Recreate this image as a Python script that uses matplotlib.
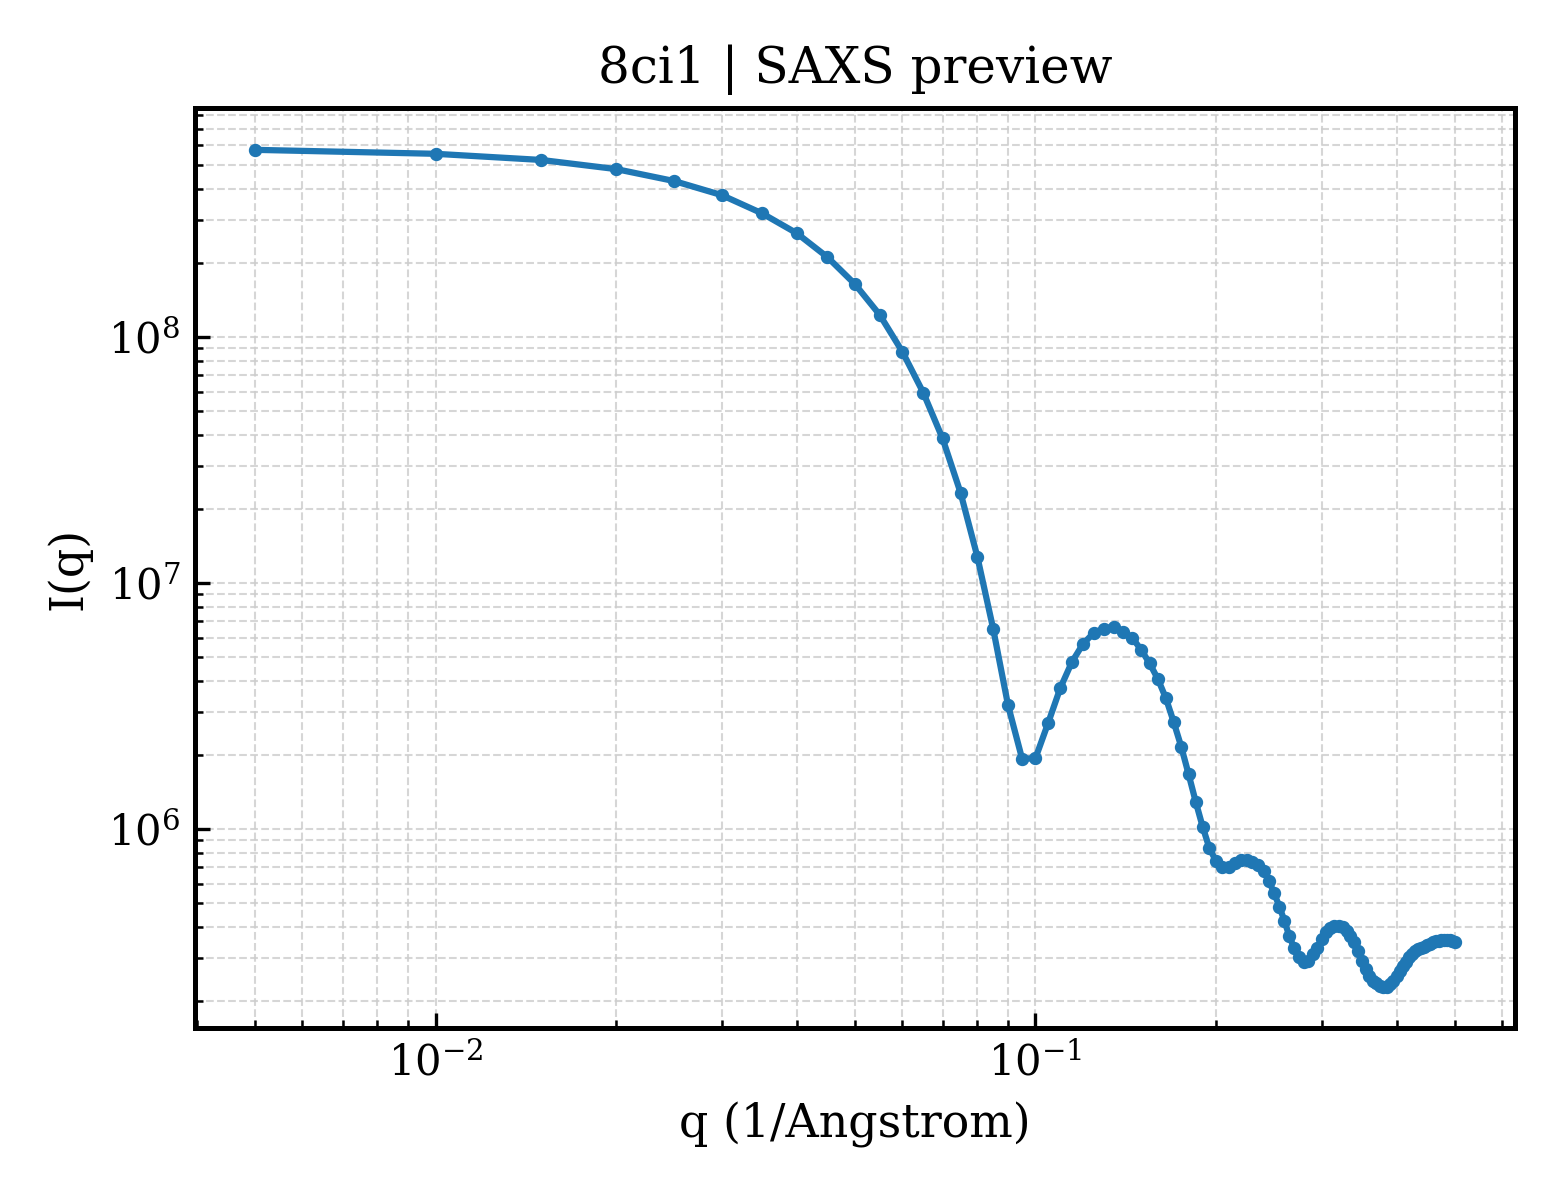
import matplotlib
matplotlib.use("Agg")
import matplotlib.pyplot as plt

plt.rcParams['font.family'] = ['DejaVu Serif']

q = [0.005, 0.010, 0.015, 0.020, 0.025, 0.030, 0.035, 0.040, 0.045, 0.050,
     0.055, 0.060, 0.065, 0.070, 0.075, 0.080, 0.085, 0.090, 0.095, 0.100,
     0.105, 0.110, 0.115, 0.120, 0.125, 0.130, 0.135, 0.140, 0.145, 0.150,
     0.155, 0.160, 0.165, 0.170, 0.175, 0.180, 0.185, 0.190, 0.195, 0.200,
     0.205, 0.210, 0.215, 0.220, 0.225, 0.230, 0.235, 0.240, 0.245, 0.250,
     0.255, 0.260, 0.265, 0.270, 0.275, 0.280, 0.285, 0.290, 0.295, 0.300,
     0.305, 0.310, 0.315, 0.320, 0.325, 0.330, 0.335, 0.340, 0.345, 0.350,
     0.355, 0.360, 0.365, 0.370, 0.375, 0.380, 0.385, 0.390, 0.395, 0.400,
     0.405, 0.410, 0.415, 0.420, 0.425, 0.430, 0.435, 0.440, 0.445, 0.450,
     0.455, 0.460, 0.465, 0.470, 0.475, 0.480, 0.485, 0.490, 0.495, 0.500]

intensity = [5.76e8, 5.55e8, 5.24e8, 4.81e8, 4.30e8, 3.77e8, 3.18e8, 2.64e8, 2.11e8, 1.64e8,
             1.23e8, 8.71e7, 5.94e7, 3.87e7, 2.33e7, 1.28e7, 6.53e6, 3.19e6, 1.93e6, 1.94e6,
             2.70e6, 3.74e6, 4.77e6, 5.65e6, 6.26e6, 6.53e6, 6.61e6, 6.34e6, 5.98e6, 5.36e6,
             4.71e6, 4.07e6, 3.40e6, 2.72e6, 2.16e6, 1.67e6, 1.29e6, 1.02e6, 8.35e5, 7.41e5,
             6.99e5, 6.99e5, 7.27e5, 7.48e5, 7.52e5, 7.38e5, 7.14e5, 6.78e5, 6.15e5, 5.49e5,
             4.84e5, 4.24e5, 3.66e5, 3.28e5, 3.03e5, 2.89e5, 2.91e5, 3.10e5, 3.28e5, 3.57e5,
             3.80e5, 3.96e5, 4.03e5, 4.05e5, 3.98e5, 3.85e5, 3.67e5, 3.46e5, 3.19e5, 2.91e5,
             2.71e5, 2.53e5, 2.42e5, 2.36e5, 2.31e5, 2.29e5, 2.29e5, 2.34e5, 2.42e5, 2.53e5,
             2.65e5, 2.77e5, 2.89e5, 3.01e5, 3.10e5, 3.18e5, 3.24e5, 3.28e5, 3.33e5, 3.38e5,
             3.42e5, 3.46e5, 3.50e5, 3.52e5, 3.54e5, 3.55e5, 3.55e5, 3.54e5, 3.51e5, 3.48e5]

title = "8ci1 | SAXS preview"
xlabel = "q (1/Angstrom)"
ylabel = "I(q)"

fig, ax = plt.subplots(figsize=(5.2, 4.0), dpi=300)
ax.plot(q, intensity, color="#1f77b4", linewidth=1.5, marker="o", markersize=2.2)
ax.set_xscale("log")
ax.set_yscale("log")
ax.set_title(title, fontsize=12)
ax.set_xlabel(xlabel, fontsize=11)
ax.set_ylabel(ylabel, fontsize=11)
ax.tick_params(which="both", direction="in", labelsize=10)
ax.grid(True, which="both", linestyle="--", linewidth=0.5, color="#cccccc", alpha=0.8)
for s in ax.spines.values():
    s.set_linewidth(1.2)
fig.subplots_adjust(left=0.125, right=0.971, top=0.91, bottom=0.143)
fig.savefig("out.png", dpi=300)
